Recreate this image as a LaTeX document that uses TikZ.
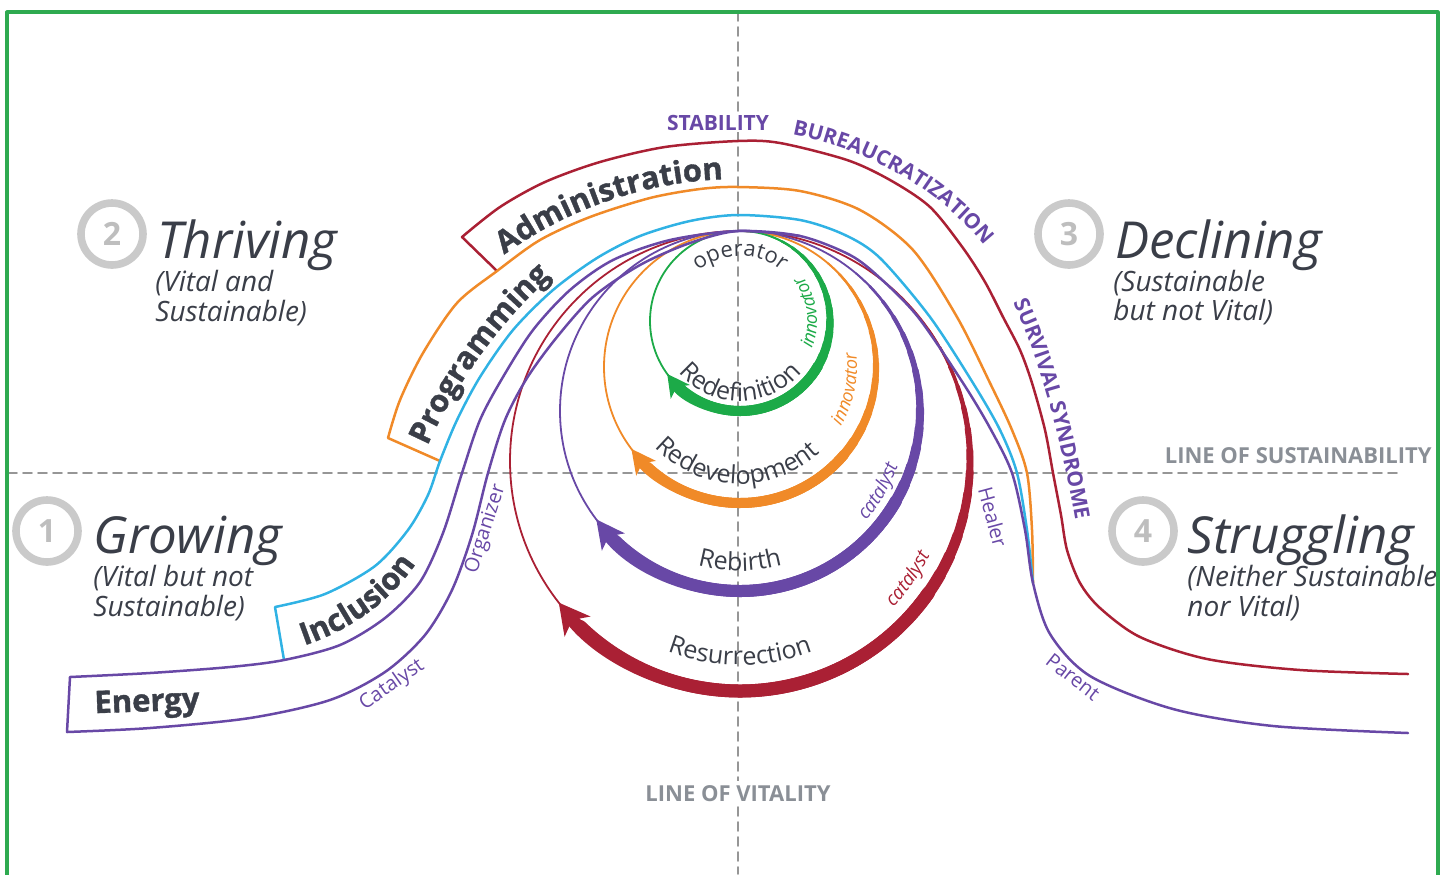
\documentclass[tikz,border=0pt]{standalone}
\usepackage{fontspec}
\setmainfont{Open Sans}
\newfontfamily\heavyfont{Open Sans}[BoldFeatures={FakeBold=1.2}]
\usetikzlibrary{arrows.meta,decorations.text}
\definecolor{dk}{RGB}{58,62,72}
\definecolor{pur}{RGB}{104,72,166}
\definecolor{rd}{RGB}{170,32,52}
\definecolor{org}{RGB}{240,138,40}
\definecolor{blu}{RGB}{48,178,228}
\definecolor{grn}{RGB}{28,170,72}
\definecolor{ringgray}{RGB}{202,202,202}
\definecolor{numgray}{RGB}{190,190,190}
\definecolor{dashgray}{RGB}{150,150,150}
\definecolor{labgray}{RGB}{138,143,150}
\definecolor{framegreen}{RGB}{46,170,80}
\newcommand\fsz[1]{\fontsize{#1}{#1}\selectfont}
% tapered loop: #1 colour, #2 centre, #3 radius, #4 thin start angle, #5 full angle, #6 base angle, #7 max width
\newcommand\taperloop[7]{%
  \foreach \i in {0,...,13}{%
    \pgfmathsetmacro\sa{#4+(#5-#4)*\i/13}%
    \pgfmathsetmacro\lw{0.9+(#7-0.9)*\i/13}%
    \draw[#1, line width=\lw pt] (#2) ++(\sa:#3) arc[start angle=\sa, end angle=#6, radius=#3];
  }%
}
\begin{document}
\begin{tikzpicture}[x=0.5pt, y=-0.5pt, line cap=round, line join=round,
  curve/.style={line width=1.25pt},
  loopthin/.style={line width=0.9pt},
  dashline/.style={draw=dashgray, line width=0.8pt, dash pattern=on 4.5pt off 3pt},
  ctext/.style={decorate, decoration={text along path, text align=center, text={#1}}},
  ring/.style={circle, draw=ringgray, line width=3.8pt, minimum size=31pt, inner sep=0pt, text=numgray, font=\bfseries\fsz{16}},
  title/.style={anchor=base west, inner sep=0pt, text=dk, font=\itshape\fsz{25.5}},
  sub/.style={anchor=base west, inner sep=0pt, text=dk, font=\itshape\fsz{14}},
  band/.style={text=dk, font=\heavyfont\bfseries\fsz{15.5}},
  caps/.style={font=\bfseries\fsz{10.5}},
  role/.style={text=pur, font=\fsz{10}}]
\useasboundingbox (0,0) rectangle (1450,874);

% axes
\draw[dashline] (738,12) -- (738,874);
\draw[dashline] (8,473) -- (1400,473);

% ---- loops ----
% Resurrection
\draw[rd, loopthin] (740,461) circle[radius=230];
\taperloop{rd}{740,461}{230}{-35}{35}{134}{6.5}
\draw[rd, line width=6.5pt, -{Stealth[length=15pt, width=16pt, inset=4pt]}] (740,461) ++(35:230) arc[start angle=35, end angle=142, radius=230];
% Rebirth
\draw[pur, loopthin] (740,411) circle[radius=180];
\taperloop{pur}{740,411}{180}{-50}{30}{134}{6}
\draw[pur, line width=6pt, -{Stealth[length=14pt, width=14pt, inset=3.5pt]}] (740,411) ++(30:180) arc[start angle=30, end angle=143, radius=180];
% Redevelopment
\draw[org, loopthin] (740,367) circle[radius=136];
\taperloop{org}{740,367}{136}{-50}{40}{133}{5}
\draw[org, line width=5pt, -{Stealth[length=12pt, width=12pt, inset=3pt]}] (740,367) ++(40:136) arc[start angle=40, end angle=143, radius=136];
% Redefinition
\draw[grn, loopthin] (740,321) circle[radius=90];
\taperloop{grn}{740,321}{90}{-70}{30}{130}{5}
\draw[grn, line width=5pt, -{Stealth[length=11pt, width=11.5pt, inset=3pt]}] (740,321) ++(30:90) arc[start angle=30, end angle=144, radius=90];

% ---- life-cycle curves ----
\draw[rd, curve] (497,271) -- plot[smooth] coordinates {(462,237) (500,207) (545,182) (600,162) (665,147) (738,141) (780,143) (847,160) (890,180) (930,207) (963,248) (985,282) (1003,317) (1020,350) (1032,383) (1045,430) (1053,473) (1061,515) (1067,550) (1080,583) (1100,608) (1140,637) (1207,659) (1300,670) (1408,674)};
\draw[org, curve] (440,461) -- plot[smooth] coordinates {(388,438) (400,400) (423,353) (457,303) (497,271) (540,240) (590,217) (650,198) (700,189) (738,187) (800,191) (860,210) (913,250) (957,317) (990,383) (1012,430) (1027,473) (1032,530) (1033,583)};
\draw[blu, curve] (284,660) -- plot[smooth] coordinates {(275,607) (325,594) (375,566) (408,530) (428,495) (440,461) (457,420) (480,377) (513,330) (553,290) (597,258) (640,236) (690,221) (738,215) (800,220) (845,235) (880,258) (930,317) (973,383) (1000,430) (1017,473) (1027,530) (1033,583)};
\draw[pur, curve] (67,732) -- plot[smooth] coordinates {(70,677) (150,673) (230,667) (284,660) (340,645) (385,618) (420,582) (443,533) (462,473) (480,420) (503,377) (533,330) (570,290) (613,260) (670,240) (738,231) (800,236) (850,255) (880,278) (918,317) (963,383) (990,428) (1012,473) (1025,530) (1033,583) (1050,634) (1090,676) (1173,709) (1273,726) (1408,733)};
\draw[pur, curve] plot[smooth] coordinates {(67,732) (150,728) (250,718) (330,700) (385,672) (425,635) (452,590) (472,535) (488,473) (505,420) (527,378) (557,337) (593,297) (640,265) (690,243) (738,231) (800,236)};

% ---- band labels ----
\path[ctext={|\heavyfont\bfseries\fsz{15.5}\color{dk}|Administration}] (738,578) ++(-142:399) arc[start angle=-142, end angle=-76, radius=399];
\path[ctext={|\heavyfont\bfseries\fsz{15.5}\color{dk}|Programming}] (412,486) .. controls (434,416) and (494,316) .. (584,249);
\path[ctext={|\heavyfont\bfseries\fsz{15.5}\color{dk}|Inclusion}] (262,656) .. controls (330,645) and (405,605) .. (436,525);
\node[band, rotate=2] (energy) at (147,704) {Energy};

\path[ctext={|\bfseries\fsz{10.5}\color{pur}|BUREAUCRATIZATION}] (762,130) .. controls (852,139) and (952,189) .. (1002,271);
\path[ctext={|\bfseries\fsz{10.5}\color{pur}|SURVIVAL SYNDROME}] (1000,278) .. controls (1035,338) and (1063,440) .. (1080,548);
\node[caps, text=pur, fill=white, inner sep=1pt, anchor=base] (stab) at (718,130) {STABILITY};
\node[caps, text=labgray, anchor=base east, inner sep=0pt, font=\bfseries\fsz{11}] (los) at (1432,463) {LINE OF SUSTAINABILITY};
\node[caps, text=labgray, fill=white, inner sep=2pt, anchor=base, font=\bfseries\fsz{11}] (lov) at (738,801) {LINE OF VITALITY};

% ---- loop labels ----
\path[ctext={|\fsz{11}\color{dk}|operator}] (740,321) ++(-145:65) arc[start angle=-145, end angle=-35, radius=65];
\path[ctext={|\itshape\fsz{9}\color{grn}|innovator}] (740,321) ++(30:77) arc[start angle=30, end angle=-45, radius=77];
\path[ctext={|\fsz{12.5}\color{dk}|Redefinition}] (740,321) ++(155:80) arc[start angle=155, end angle=25, radius=80];
\path[ctext={|\itshape\fsz{9}\color{org}|innovator}] (740,367) ++(42:117) arc[start angle=42, end angle=-19, radius=117];
\path[ctext={|\fsz{12.5}\color{dk}|Redevelopment}] (740,367) ++(162:117) arc[start angle=162, end angle=22, radius=117];
\path[ctext={|\itshape\fsz{9.5}\color{pur}|catalyst}] (740,411) ++(55:167) arc[start angle=55, end angle=5, radius=167];
\path[ctext={|\fsz{12.5}\color{dk}|Rebirth}] (740,411) ++(130:160) arc[start angle=130, end angle=50, radius=160];
\path[ctext={|\itshape\fsz{9.5}\color{rd}|catalyst}] (740,461) ++(60:212) arc[start angle=60, end angle=10, radius=212];
\path[ctext={|\fsz{12.5}\color{dk}|Resurrection}] (740,461) ++(125:204) arc[start angle=125, end angle=55, radius=204];

% ---- role labels ----
\node[role, rotate=35] (catalyst) at (392,685) {Catalyst};
\node[role, rotate=72] (organizer) at (486,529) {Organizer};
\node[role, rotate=-75] (healer) at (993,517) {Healer};
\node[role, rotate=-38] (parent) at (1073,677) {Parent};

% ---- quadrants ----
\node[ring] (r2) at (112,234) {2};
\node[title] (thriving) at (157,258) {Thriving};
\node[sub] (thr1) at (155,291) {(Vital and};
\node[sub] (thr2) at (155,321) {Sustainable)};
\node[ring] (r3) at (1069,234) {3};
\node[title] (declining) at (1115,258) {Declining};
\node[sub] (dec1) at (1113,291) {(Sustainable};
\node[sub] (dec2) at (1113,320) {but not Vital)};
\node[ring] (r1) at (47,531) {1};
\node[title] (growing) at (93,553) {Growing};
\node[sub] (gro1) at (93,586) {(Vital but not};
\node[sub] (gro2) at (93,616) {Sustainable)};
\node[ring] (r4) at (1143,531) {4};
\node[title] (struggling) at (1187,553) {Struggling};
\node[sub] (str1) at (1187,586) {(Neither Sustainable};
\node[sub] (str2) at (1187,616) {nor Vital)};

% frame
\draw[framegreen, line width=1.6pt] (7,12) rectangle (1438,900);
\end{tikzpicture}
\end{document}
